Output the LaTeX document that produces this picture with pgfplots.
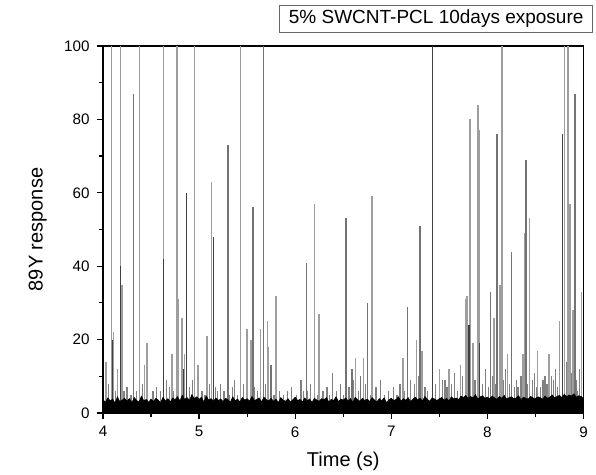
\documentclass[border=0pt]{standalone}
\usepackage{pgfplots}
\pgfplotsset{compat=1.18}
\usepackage{fontspec}
\setmainfont{Liberation Sans}
\definecolor{spklight}{gray}{0.62}
\definecolor{spkmid}{gray}{0.45}
\definecolor{spkdark}{gray}{0.25}
\definecolor{spksmall}{gray}{0.5}
\begin{document}
\begin{tikzpicture}
\path[use as bounding box] (-51.5pt,-31pt) rectangle (246.5pt,206.5pt);
\begin{axis}[
  name=main,
  at={(0,0)}, anchor=south west,
  scale only axis, width=240.25pt, height=183.5pt,
  xmin=4, xmax=9, ymin=0, ymax=100,
  xtick={4,5,6,7,8,9}, ytick={0,20,40,60,80,100},
  minor x tick num=1, minor y tick num=1,
  tick align=outside, xtick pos=left, ytick pos=left,
  major tick length=3.2pt, minor tick length=1.8pt,
  axis line style={line width=0.6pt},
  every tick/.style={black, line width=0.6pt},
  /pgf/number format/assume math mode=true,
  tick label style={font=\fontsize{7.6}{9}\selectfont},
  label style={font=\fontsize{9.5}{11}\selectfont},
  xlabel={Time (s)}, ylabel={89Y response},
  every axis x label/.style={at={(axis description cs:0.5,-0.1308)}, anchor=center},
  every axis y label/.style={at={(axis description cs:-0.1360,0.5)}, rotate=90, anchor=center},
]
% small background spikes
\addplot[ycomb, mark=none, spksmall, line width=0.65pt] coordinates {
(4.06,8) (4.13,6) (4.22,6) (4.25,7) (4.29,5) (4.35,6) (4.41,8) (4.52,6) (4.56,7) (4.60,6) (4.66,9) (4.69,7) (4.71,5) (4.73,6)
(4.90,7) (4.93,9) (5.03,6) (5.06,5) (5.11,8) (5.17,7) (5.19,6) (5.22,8) (5.26,6) (5.32,5) (5.35,7) (5.37,9) (5.40,5) (5.46,8)
(5.58,7) (5.61,6) (5.69,8) (5.78,5) (5.84,6) (5.88,5) (5.92,6) (5.96,7) (6.01,5) (6.06,9) (6.09,6) (6.13,6) (6.16,8) (6.23,5)
(6.29,6) (6.33,7) (6.36,5) (6.39,11) (6.43,6) (6.47,8) (6.50,5) (6.56,7) (6.61,9) (6.66,6) (6.73,8) (6.78,5) (6.84,7) (6.89,9)
(6.93,5) (6.97,6) (7.02,7) (7.06,5) (7.09,8) (7.14,6) (7.20,9) (7.24,8) (7.28,10) (7.35,7) (7.38,6) (7.46,8) (7.53,9) (7.56,9)
(7.58,7) (7.63,8) (7.66,11) (7.69,6) (7.74,10) (7.87,9) (7.95,8) (7.98,12) (8.01,7) (8.05,10) (8.09,8) (8.17,9) (8.19,12)
(8.23,8) (8.28,7) (8.30,9) (8.32,7) (8.35,10) (8.42,8) (8.47,9) (8.49,11) (8.51,7) (8.55,7) (8.58,9) (8.60,10) (8.62,8)
(8.67,10) (8.69,9) (8.71,12) (8.73,7) (8.82,14) (8.85,10) (8.87,11) (8.93,9) (8.94,6) (8.96,12)
};
% light tall spikes
\addplot[ycomb, mark=none, spklight, line width=0.75pt] coordinates {
(4.03,14) (4.09,100) (4.11,22) (4.15,12) (4.18,100) (4.20,35) (4.38,100) (4.43,13) (4.46,19)
(4.63,100) (4.72,16) (4.77,100) (4.78,31) (4.82,26) (4.85,16) (4.95,100) (4.99,13) (5.08,21) (5.13,63)
(5.43,100) (5.50,23) (5.54,20) (5.64,23) (5.71,25) (5.72,18) (5.80,32) (6.20,57) (6.25,27)
(6.63,15) (6.71,15) (6.80,59) (7.12,15) (7.26,20) (7.32,17) (7.50,12) (7.60,12) (7.72,13)
(7.77,31) (7.79,32) (7.82,80) (7.85,19) (7.90,84) (7.92,77) (8.07,26) (8.13,35) (8.15,100) (8.21,16)
(8.37,16) (8.39,49) (8.44,53) (8.52,17) (8.64,16) (8.75,25) (8.80,100) (8.84,100) (8.86,57) (8.89,28) (8.98,33)
};
% medium spikes
\addplot[ycomb, mark=none, spkmid, line width=0.75pt] coordinates {
(4.32,87) (5.30,73) (5.56,56) (5.67,100) (5.75,13) (6.12,41) (6.53,53) (6.59,12) (6.68,10) (6.75,30)
(7.17,29) (7.30,51) (8.03,33) (8.10,76) (8.25,44) (8.40,69) (8.91,87)
};
% dark spikes
\addplot[ycomb, mark=none, spkdark, line width=0.75pt] coordinates {
(4.10,20) (4.18,40) (4.63,42) (4.84,12) (4.87,60) (5.15,48) (7.43,100) (7.43,35) (7.81,24) (7.92,19) (8.78,76)
};
% dense noise band
\addplot[fill=black, draw=black, line width=0.3pt] coordinates {
(4.000,3.6) (4.025,2.9) (4.050,4.1) (4.075,3.3) (4.100,3.8) (4.125,2.7) (4.150,4.4) (4.175,3.1) (4.200,3.5) (4.225,4.0)
(4.250,3.2) (4.275,3.9) (4.300,2.8) (4.325,4.2) (4.350,3.4) (4.375,3.0) (4.400,4.6) (4.425,3.3) (4.450,3.7) (4.475,2.9)
(4.500,3.8) (4.525,3.1) (4.550,4.0) (4.575,3.5) (4.600,2.8) (4.625,4.3) (4.650,3.2) (4.675,3.9) (4.700,3.0) (4.725,4.1)
(4.750,3.6) (4.775,4.5) (4.800,3.3) (4.825,4.8) (4.850,3.7) (4.875,4.2) (4.900,3.4) (4.925,5.0) (4.950,3.9) (4.975,4.4)
(5.000,3.7) (5.025,4.3) (5.050,3.0) (5.075,4.6) (5.100,3.5) (5.125,3.9) (5.150,3.2) (5.175,4.1) (5.200,3.4) (5.225,3.8)
(5.250,3.1) (5.275,4.0) (5.300,3.6) (5.325,2.9) (5.350,4.4) (5.375,3.3) (5.400,3.8) (5.425,3.0) (5.450,4.2) (5.475,3.5)
(5.500,3.9) (5.525,3.2) (5.550,4.5) (5.575,3.4) (5.600,3.7) (5.625,4.1) (5.650,3.0) (5.675,4.3) (5.700,3.6) (5.725,3.3)
(5.750,4.0) (5.775,3.1) (5.800,3.8) (5.825,2.8) (5.850,4.2) (5.875,3.5) (5.900,3.2) (5.925,3.9) (5.950,3.0) (5.975,3.6)
(6.000,4.3) (6.025,3.4) (6.050,3.7) (6.075,3.0) (6.100,4.1) (6.125,3.3) (6.150,3.8) (6.175,2.9) (6.200,4.0) (6.225,3.5)
(6.250,3.2) (6.275,3.9) (6.300,3.6) (6.325,4.2) (6.350,3.0) (6.375,3.7) (6.400,3.4) (6.425,4.4) (6.450,3.1) (6.475,3.8)
(6.500,3.5) (6.525,4.1) (6.550,3.3) (6.575,3.9) (6.600,2.9) (6.625,4.3) (6.650,3.6) (6.675,3.2) (6.700,4.0) (6.725,3.4)
(6.750,3.8) (6.775,3.1) (6.800,4.2) (6.825,3.5) (6.850,3.0) (6.875,3.9) (6.900,3.3) (6.925,4.1) (6.950,2.8) (6.975,3.6)
(7.000,4.0) (7.025,3.4) (7.050,3.7) (7.075,4.4) (7.100,3.2) (7.125,3.9) (7.150,3.5) (7.175,4.2) (7.200,3.1) (7.225,3.8)
(7.250,4.3) (7.275,3.6) (7.300,4.0) (7.325,3.3) (7.350,4.5) (7.375,3.7) (7.400,3.2) (7.425,4.1) (7.450,3.8) (7.475,3.4)
(7.500,3.9) (7.525,4.2) (7.550,3.5) (7.575,4.0) (7.600,3.3) (7.625,4.4) (7.650,3.8) (7.675,4.1) (7.700,3.6) (7.725,4.6)
(7.750,4.2) (7.775,4.8) (7.800,3.9) (7.825,4.5) (7.850,4.1) (7.875,5.0) (7.900,3.8) (7.925,4.4) (7.950,4.7) (7.975,4.0)
(8.000,4.3) (8.025,3.9) (8.050,4.6) (8.075,4.1) (8.100,3.7) (8.125,4.5) (8.150,4.0) (8.175,4.8) (8.200,3.8) (8.225,4.2)
(8.250,4.4) (8.275,3.9) (8.300,4.1) (8.325,4.7) (8.350,3.6) (8.375,4.3) (8.400,4.0) (8.425,3.8) (8.450,4.5) (8.475,4.1)
(8.500,3.9) (8.525,4.4) (8.550,4.2) (8.575,3.7) (8.600,4.6) (8.625,4.0) (8.650,4.3) (8.675,4.9) (8.700,4.1) (8.725,4.5)
(8.750,4.8) (8.775,4.2) (8.800,5.1) (8.825,4.4) (8.850,4.9) (8.875,4.6) (8.900,5.2) (8.925,4.3) (8.950,4.7) (8.975,4.5)
(9.000,4.0)
} \closedcycle;
\end{axis}
\node[draw=black!60, line width=0.5pt, anchor=north east, inner xsep=4.5pt, inner ysep=0pt,
  minimum height=13.5pt, font=\fontsize{9.5}{11}\selectfont]
  at ([xshift=4.75pt,yshift=20.5pt]main.north east) {5\% SWCNT-PCL 10days exposure};
\end{tikzpicture}
\end{document}
